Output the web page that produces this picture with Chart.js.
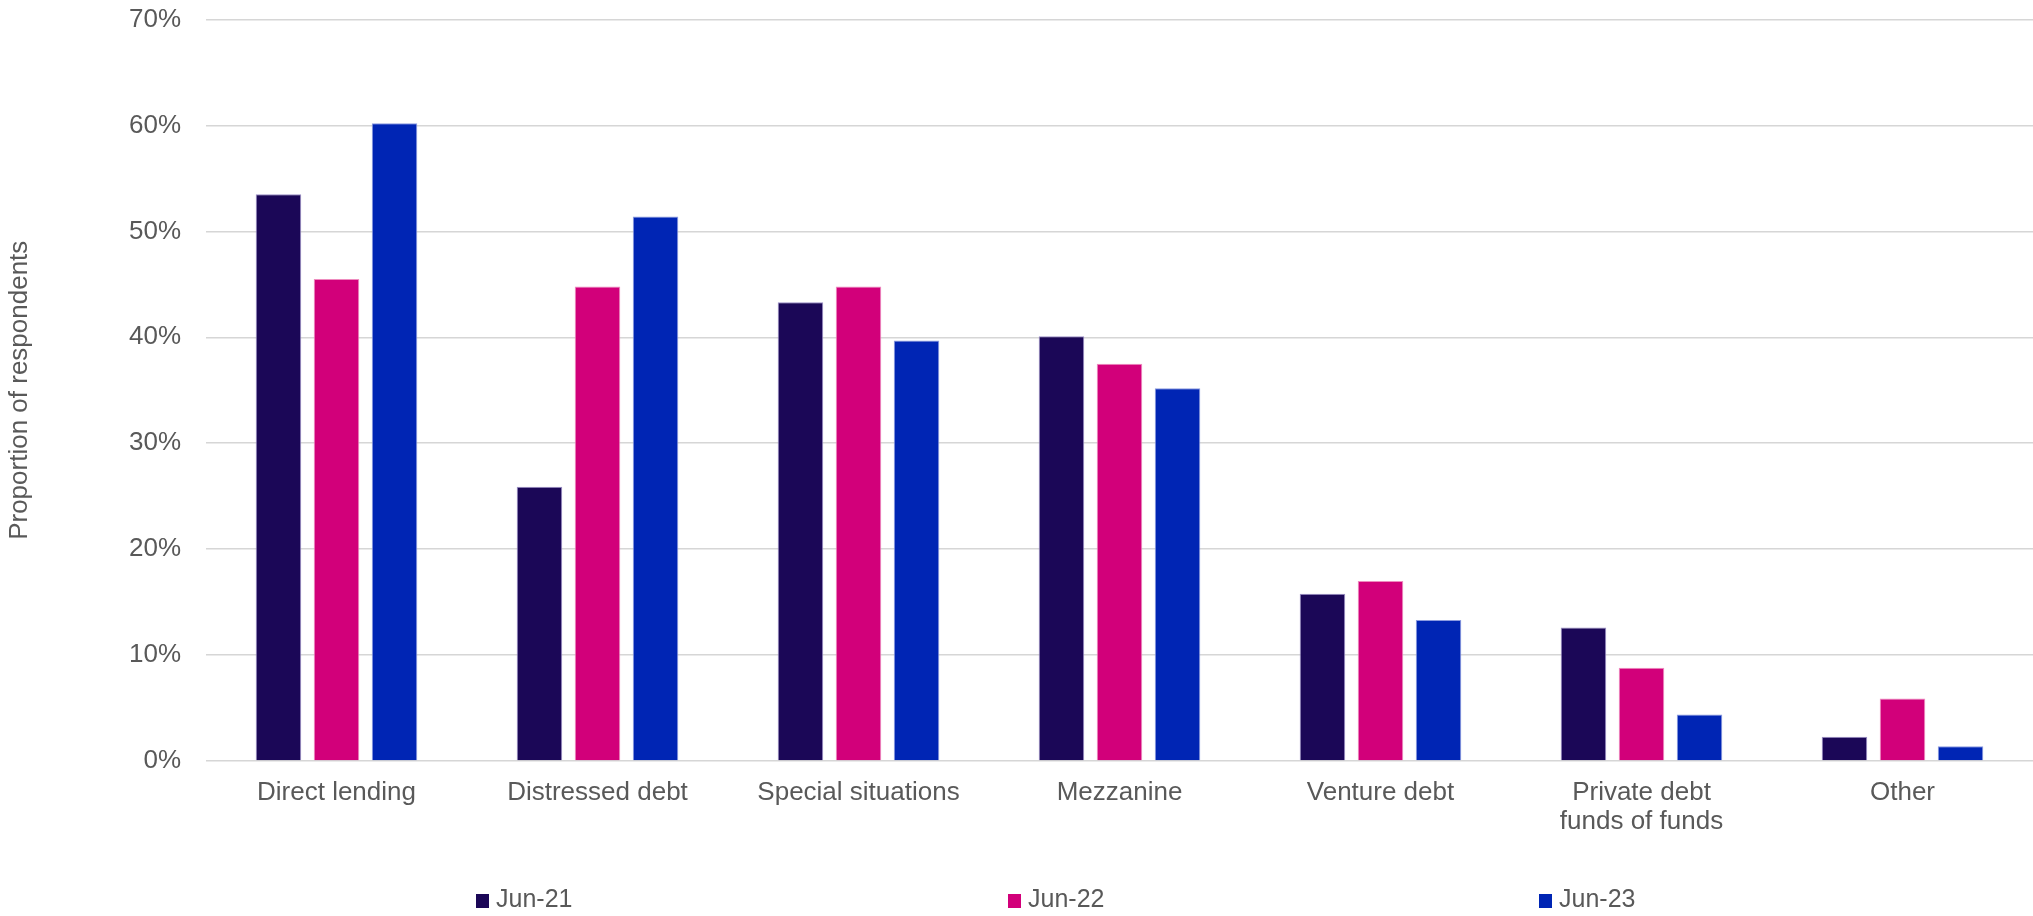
<!DOCTYPE html>
<html>
<head>
<meta charset="utf-8">
<title>Proportion of respondents by private debt strategy</title>
<script src="https://cdn.jsdelivr.net/npm/chart.js@4.4.1/dist/chart.umd.min.js"></script>
<style>
  html, body { margin: 0; padding: 0; background: #fff; }
  #wrap { position: relative; width: 2033px; height: 916px; }
  #legend { position: absolute; left: 0; top: 0; width: 2033px; height: 916px; pointer-events: none;
            font-family: "Liberation Sans", Arial, sans-serif; font-size: 25px; color: #595959; }
  .item { position: absolute; top: 883px; height: 30px; line-height: 30px; white-space: nowrap; }
  .box { display: inline-block; width: 13px; height: 14px; margin-right: 7px; vertical-align: -1px; }
</style>
</head>
<body>
<div id="wrap">
  <canvas id="strategy-chart" width="2033" height="916"></canvas>
  <div id="legend"></div>
</div>
<script>
"use strict";
// categories and survey waves
const strategies = ["Direct lending", "Distressed debt", "Special situations", "Mezzanine",
    "Venture debt", ["Private debt", "funds of funds"], "Other"];
const waves = ["Jun-21", "Jun-22", "Jun-23"];
// share of respondents (%) per strategy
const jun21 = [53.5, 25.9, 43.3, 40.1, 15.8, 12.6, 2.3];
const jun22 = [45.5, 44.8, 44.8, 37.5, 17.0, 8.8, 5.9];
const jun23 = [60.2, 51.4, 39.7, 35.2, 13.3, 4.4, 1.4];
const waveColors = ["#1b0757", "#d2007a", "#0025b4"];
const waveEdges = ["#9a8fc6", "#ee8cbf", "#8c9be0"];
const legendLeft = [476, 1008, 1539];

const FONT = "'Liberation Sans', Arial, sans-serif";
const GREY = "#595959";

function buildDatasets() {
    return [jun21, jun22, jun23].map((values, i) => ({
        label: waves[i],
        data: values,
        backgroundColor: waveColors[i],
        borderColor: waveEdges[i],
        borderWidth: { top: 1, left: 1, right: 1, bottom: 0 },
        borderSkipped: false,
        categoryPercentage: 0.667,
        barPercentage: 0.785
    }));
}

// legend is laid out as plain html under the axis
function buildLegend() {
    const legend = document.getElementById("legend");
    waves.forEach((wave, i) => {
        const item = document.createElement("div");
        item.className = "item";
        item.style.left = legendLeft[i] + "px";
        item.innerHTML = `<span class="box" style="background:${waveColors[i]}"></span>${wave}`;
        legend.appendChild(item);
    });
}

function createChart() {
    const ctx = document.getElementById("strategy-chart");
    return new Chart(ctx, {
        type: "bar",
        data: { labels: strategies, datasets: buildDatasets() },
        options: {
            responsive: false,
            animation: false,
            events: [],
            layout: { padding: 0 },
            plugins: {
                legend: { display: false },
                tooltip: { enabled: false }
            },
            scales: {
                x: {
                    grid: { display: false, drawTicks: false },
                    border: { display: false },
                    ticks: {
                        color: GREY,
                        padding: 17,
                        maxRotation: 0,
                        autoSkip: false,
                        font: { family: FONT, size: 26, lineHeight: 1.13 }
                    },
                    afterFit(scale) { scale.height = 155; }
                },
                y: {
                    min: 0,
                    max: 70,
                    grid: { color: "#d6d6d6", lineWidth: 1.5, drawTicks: false },
                    border: { display: false },
                    ticks: {
                        stepSize: 10,
                        color: GREY,
                        padding: 25,
                        font: { family: FONT, size: 26 },
                        callback: (v) => v + "%"
                    },
                    title: {
                        display: true,
                        text: "Proportion of respondents",
                        color: GREY,
                        font: { family: FONT, size: 26 },
                        padding: { top: 4, bottom: 4 }
                    },
                    afterFit(scale) {
                        // tick padding would otherwise push the plot top down
                        scale.width = 206;
                        scale.paddingTop = 19.5;
                    }
                }
            }
        }
    });
}

buildLegend();
createChart();
</script>
</body>
</html>
